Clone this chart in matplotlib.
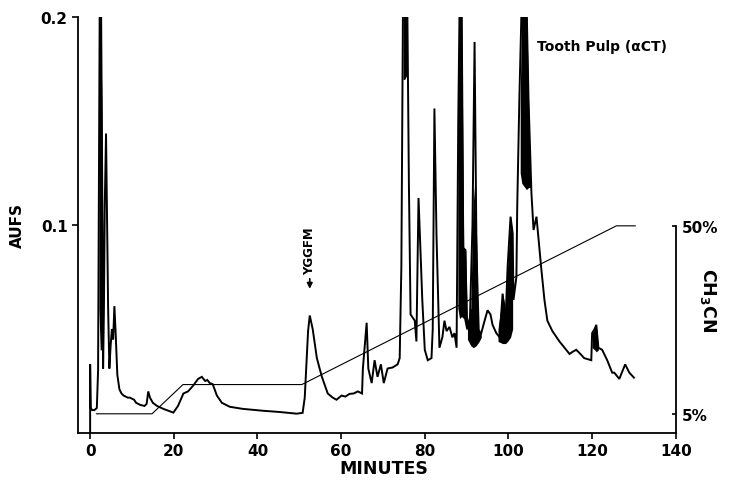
import matplotlib
matplotlib.use("Agg")
import matplotlib.pyplot as plt

# Chromatogram trace (minutes, AUFS); peaks above 0.2 are clipped by the axis
TIME = [0, 0, 0.15, 0.5, 1.0, 1.6, 1.9, 2.1, 2.3, 2.5, 2.6, 2.8, 2.95, 3.1, 3.3,
        3.5, 3.8, 4.0, 4.3, 4.6, 4.9, 5.2, 5.5, 5.8, 6.1, 6.5, 7.0, 7.5, 8.0,
        9.0, 9.5, 10.5, 11.0, 12.0, 13.0, 13.5, 13.9, 14.3, 15.0, 16.0, 17.5,
        19.0, 19.9, 21.0, 22.3, 23.4, 24.6, 25.8, 26.7, 27.5, 28.0, 28.6, 29.3,
        30.3, 31.5, 33.4, 36.5, 41.3, 45.3, 49.4, 50.8, 51.3, 52.1, 52.5, 53.2,
        54.2, 55.4, 56.8, 58.0, 58.9, 60.1, 61.0, 62.0, 63.0, 64.0, 65.0, 65.2,
        66.1, 66.5, 67.3, 68.0, 68.7, 69.5, 70.2, 71.1, 72.3, 73.5, 74.0, 74.4,
        74.8, 75.3, 75.8, 76.2, 76.6, 77.6, 78.0, 78.5, 79.4, 80.0, 80.7, 81.6,
        81.9, 82.3, 82.8, 83.5, 84.2, 84.7, 85.2, 85.9, 86.6, 87.1, 87.6, 88.0,
        88.4, 88.8, 89.2, 89.7, 90.0, 90.7, 91.4, 91.9, 92.3, 92.6, 93.5, 94.3,
        95.0, 95.7, 96.2, 97.1, 97.9, 98.6, 99.3, 99.8, 100.5, 101.0, 101.2,
        101.9, 102.1, 102.6, 103.2, 104.3, 104.8, 105.5, 106.0, 106.7, 107.2,
        107.8, 108.6, 109.3, 110.5, 112.2, 113.8, 114.6, 115.3, 116.2, 117.2,
        118.1, 119.8, 120.0, 120.6, 121.0, 121.5, 122.4, 123.6, 124.8, 125.3,
        126.5, 127.9, 128.9, 130.0]
AUFS = [0.0, 0.033, 0.012, 0.011, 0.011, 0.012, 0.03, 0.12, 0.21, 0.17, 0.21,
        0.15, 0.10, 0.031, 0.06, 0.11, 0.144, 0.11, 0.06, 0.031, 0.042, 0.050,
        0.045, 0.061, 0.048, 0.028, 0.021, 0.019, 0.018, 0.017, 0.017, 0.016,
        0.0145, 0.0135, 0.013, 0.014, 0.020, 0.017, 0.0145, 0.013, 0.0116,
        0.0105, 0.0098, 0.013, 0.019, 0.020, 0.0227, 0.026, 0.027, 0.025,
        0.0255, 0.024, 0.0235, 0.018, 0.0145, 0.0126, 0.0116, 0.0107, 0.0101,
        0.0093, 0.0097, 0.017, 0.049, 0.0565, 0.050, 0.036, 0.027, 0.019,
        0.017, 0.016, 0.018, 0.0175, 0.0188, 0.019, 0.020, 0.019, 0.031, 0.053,
        0.031, 0.024, 0.035, 0.027, 0.033, 0.024, 0.031, 0.0315, 0.033, 0.036,
        0.08, 0.21, 0.22, 0.21, 0.12, 0.057, 0.054, 0.044, 0.113, 0.064, 0.040,
        0.035, 0.036, 0.05, 0.156, 0.095, 0.041, 0.046, 0.054, 0.049, 0.051,
        0.046, 0.048, 0.041, 0.15, 0.22, 0.21, 0.089, 0.088, 0.054, 0.048, 0.10,
        0.188, 0.10, 0.049, 0.048, 0.054, 0.059, 0.057, 0.052, 0.048, 0.046,
        0.067, 0.054, 0.080, 0.104, 0.096, 0.064, 0.075, 0.109, 0.16, 0.21,
        0.21, 0.16, 0.115, 0.0976, 0.104, 0.093, 0.080, 0.064, 0.054, 0.049,
        0.044, 0.040, 0.038, 0.039, 0.040, 0.038, 0.036, 0.035, 0.048, 0.050,
        0.052, 0.041, 0.040, 0.035, 0.029, 0.029, 0.026, 0.033, 0.029, 0.0266]

# Pen-filled (black) regions: (minutes, lower AUFS, upper AUFS)
BANDS = [
    ([2.1, 2.4, 2.8, 3.0], [0.06, 0.04, 0.04, 0.05], [0.2, 0.21, 0.16, 0.09]),
    ([74.8, 75.2, 75.7], [0.17, 0.17, 0.172], [0.21, 0.21, 0.21]),
    ([87.9, 88.3, 88.8, 89.3, 89.8, 90.2],
     [0.06, 0.055, 0.056, 0.055, 0.05, 0.05],
     [0.15, 0.21, 0.21, 0.089, 0.088, 0.054]),
    ([90.2, 91.0, 91.6, 92.3, 93.0, 93.5],
     [0.045, 0.042, 0.041, 0.042, 0.044, 0.046],
     [0.054, 0.06, 0.12, 0.10, 0.05, 0.048]),
    ([97.5, 98.6, 99.3, 99.8, 100.5, 101.0],
     [0.044, 0.043, 0.043, 0.044, 0.046, 0.05],
     [0.05, 0.067, 0.06, 0.080, 0.104, 0.096]),
    ([102.8, 103.2, 104.3, 104.8, 105.3],
     [0.125, 0.12, 0.117, 0.118, 0.118],
     [0.16, 0.21, 0.21, 0.16, 0.12]),
    ([120.0, 120.6, 121.0, 121.5], [0.041, 0.040, 0.039, 0.040],
     [0.048, 0.050, 0.052, 0.041]),
]

# Acetonitrile gradient (minutes, %)
GRAD_TIME = [1.5, 14.8, 22.2, 50.6, 125.8, 130.3]
GRAD_PCT = [5, 5, 12, 12, 50, 50]

YGGFM_TIME = 52.5

plt.rcParams["font.family"] = "DejaVu Sans"
plt.rcParams["font.weight"] = "bold"

fig = plt.figure(figsize=(7.29, 4.81), dpi=100)
ax = fig.add_axes([0.107, 0.0977, 0.82, 0.8649])

ax.plot(TIME, AUFS, color="black", linewidth=1.4, solid_joinstyle="miter")
for bt, lo, hi in BANDS:
    ax.fill_between(bt, lo, hi, color="black", linewidth=0)

ax.set_xlim(-2.9, 140)
ax.set_ylim(0, 0.2)
ax.set_xticks(range(0, 141, 20))
ax.set_yticks([0.1, 0.2])
ax.set_yticklabels(["0.1", "0.2"])
ax.tick_params(axis="both", labelsize=11, length=4, width=1.2, direction="out")
ax.spines["top"].set_visible(False)
ax.spines["right"].set_visible(False)
ax.spines["left"].set_linewidth(1.3)
ax.spines["bottom"].set_linewidth(1.3)
for lab in ax.get_xticklabels() + ax.get_yticklabels():
    lab.set_fontweight("bold")

ax.set_xlabel("MINUTES", fontsize=12.5, fontweight="bold")
ax.xaxis.set_label_coords(0.512, -0.062)
ax.set_ylabel("AUFS", fontsize=11, fontweight="bold")
ax.yaxis.set_label_coords(-0.088, 0.5)

# gradient on the right axis
ax2 = ax.twinx()
ax2.plot(GRAD_TIME, GRAD_PCT, color="black", linewidth=0.8)
ax2.set_ylim(0.4, 100)
ax2.set_yticks([5, 50])
ax2.set_yticklabels(["5%", "50%"])
ax2.tick_params(axis="y", labelsize=11, length=3, width=1.2, direction="in", pad=4)
for lab in ax2.get_yticklabels():
    lab.set_fontweight("bold")
ax2.spines["top"].set_visible(False)
ax2.spines["left"].set_visible(False)
ax2.spines["bottom"].set_visible(False)
ax2.spines["right"].set_bounds(0.4, 50)
ax2.spines["right"].set_linewidth(1.3)

fig.text(0.971, 0.376, "CH$_\\mathbf{3}$CN", rotation=270, fontsize=12.5,
         fontweight="bold", ha="center", va="center")

ax.text(106.8, 0.186, "Tooth Pulp (αCT)", fontsize=10, fontweight="bold",
        ha="left", va="center")

ax.text(YGGFM_TIME, 0.088, "YGGFM", rotation=90, fontsize=8.5, fontweight="bold",
        ha="center", va="center")
ax.annotate("", xy=(YGGFM_TIME, 0.068), xytext=(YGGFM_TIME, 0.0755),
            arrowprops=dict(arrowstyle="-|>", color="black", lw=1.2,
                            mutation_scale=8))

fig.savefig("out.png", dpi=100)
